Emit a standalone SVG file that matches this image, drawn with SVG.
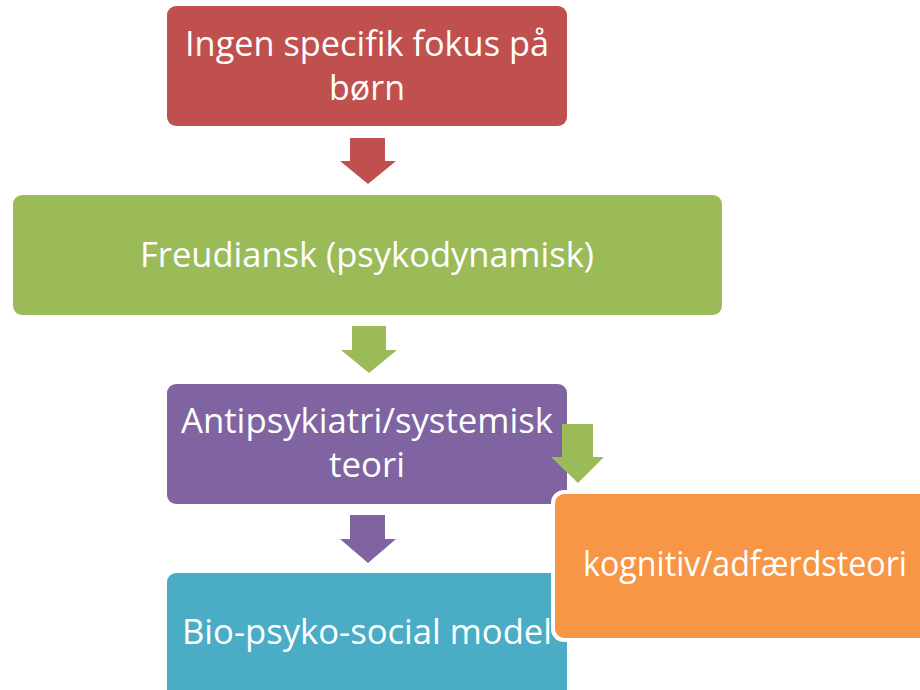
<svg xmlns="http://www.w3.org/2000/svg" width="920" height="690" viewBox="0 0 920 690">
<style>
.t{font-family:"Open Sans","Liberation Sans",sans-serif;font-size:35px;fill:#fff;text-anchor:middle}
</style>
<rect width="920" height="690" fill="#fff"/>
<g id="n1"><rect x="167" y="6" width="400" height="120" rx="9" fill="#C0504D"/>
<text class="t" x="367" y="56" textLength="364" lengthAdjust="spacingAndGlyphs">Ingen specifik fokus på</text>
<text class="t" x="367" y="100" textLength="76" lengthAdjust="spacingAndGlyphs">børn</text></g>
<g id="n2"><rect x="13" y="195" width="709" height="120" rx="9" fill="#9BBB59"/>
<text class="t" x="367" y="267" textLength="454" lengthAdjust="spacingAndGlyphs">Freudiansk (psykodynamisk)</text></g>
<g id="n3"><rect x="167" y="384" width="400" height="120" rx="9" fill="#8064A2"/>
<text class="t" x="367" y="433" textLength="372" lengthAdjust="spacingAndGlyphs">Antipsykiatri/systemisk</text>
<text class="t" x="367" y="477" textLength="76" lengthAdjust="spacingAndGlyphs">teori</text></g>
<g id="n4"><rect x="167" y="573" width="400" height="130" rx="9" fill="#4BACC6"/>
<text class="t" x="367" y="644" textLength="370" lengthAdjust="spacingAndGlyphs">Bio-psyko-social model</text></g>
<g id="connectors">
<polygon points="350,138 385,138 385,161 396,161 368,184 340,161 350,161" fill="#C0504D"/>
<polygon points="352,326 386,326 386,350 397,350 369,373 341,350 352,350" fill="#9BBB59"/>
<polygon points="350,515 385,515 385,539 396,539 368,563 340,539 350,539" fill="#8064A2"/>
<polygon points="562,424 593,424 593,457 604,457 578,483 551,457 562,457" fill="#9BBB59"/>
</g>
<g id="n5"><rect x="553" y="492" width="380" height="148" rx="11" fill="#F79646" stroke="#fff" stroke-width="4"/>
<text class="t" x="745" y="576" textLength="324" lengthAdjust="spacingAndGlyphs">kognitiv/adfærdsteori</text></g>
</svg>
